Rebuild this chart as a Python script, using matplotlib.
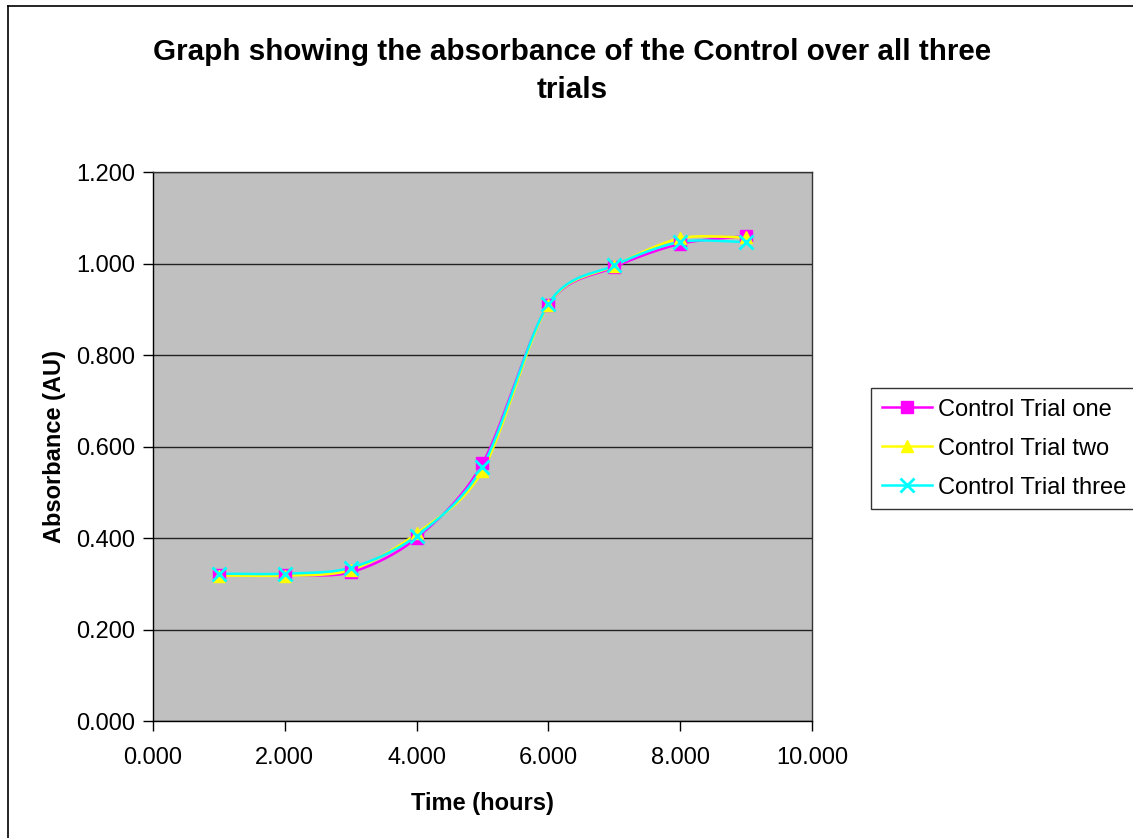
import matplotlib
matplotlib.use("Agg")
import matplotlib.pyplot as plt
import numpy as np
from matplotlib.lines import Line2D

plt.rcParams['font.family'] = ['Liberation Sans', 'DejaVu Sans']

# absorbance readings for the control, one list per trial
hours = [1, 2, 3, 4, 5, 6, 7, 8, 9]
trial_one = [0.320, 0.320, 0.325, 0.400, 0.563, 0.910, 0.992, 1.043, 1.060]
trial_two = [0.318, 0.318, 0.330, 0.410, 0.547, 0.910, 0.995, 1.055, 1.057]
trial_three = [0.322, 0.322, 0.335, 0.405, 0.556, 0.912, 0.996, 1.047, 1.047]

series = [
    ("Control Trial one", trial_one, "#FF00FF", "s"),
    ("Control Trial two", trial_two, "#FFFF00", "^"),
    ("Control Trial three", trial_three, "#00FFFF", "x"),
]


def smooth(x, y, n=30):
    # catmull-rom curve through the points (like excel's smoothed line)
    x = np.asarray(x, float)
    y = np.asarray(y, float)
    px = np.concatenate([[2 * x[0] - x[1]], x, [2 * x[-1] - x[-2]]])
    py = np.concatenate([[2 * y[0] - y[1]], y, [2 * y[-1] - y[-2]]])
    t = np.linspace(0, 1, n)
    xs, ys = [], []
    for i in range(1, len(px) - 2):
        for p, out in ((px, xs), (py, ys)):
            p0, p1, p2, p3 = p[i - 1], p[i], p[i + 1], p[i + 2]
            m1 = (p2 - p0) / 2 * 0.9
            m2 = (p3 - p1) / 2 * 0.9
            h00 = 2 * t**3 - 3 * t**2 + 1
            h10 = t**3 - 2 * t**2 + t
            h01 = -2 * t**3 + 3 * t**2
            h11 = t**3 - t**2
            out.extend(h00 * p1 + h10 * m1 + h01 * p2 + h11 * m2)
    return np.array(xs), np.array(ys)


fig = plt.figure(figsize=(11.33, 8.38), dpi=100)
ax = fig.add_axes([153 / 1133, 1 - 721 / 838, (812 - 153) / 1133, (721 - 172) / 838])
ax.set_facecolor("#C0C0C0")

for name, vals, col, mk in series:
    sx, sy = smooth(hours, vals)
    ax.plot(sx, sy, color=col, lw=1.8, zorder=3)
    if mk == "x":
        ax.plot(hours, vals, ls="none", marker=mk, ms=10, mew=2, color=col, zorder=4)
    else:
        ax.plot(hours, vals, ls="none", marker=mk, ms=9, color=col, mec=col, zorder=4)

ax.set_xlim(0, 10)
ax.set_ylim(0, 1.2)
ax.set_xticks(np.arange(0, 10.1, 2))
ax.set_yticks(np.arange(0, 1.21, 0.2))
ax.set_xticklabels([f"{v:.3f}" for v in np.arange(0, 10.1, 2)])
ax.set_yticklabels([f"{v:.3f}" for v in np.arange(0, 1.21, 0.2)])
ax.tick_params(direction="out", length=7, width=1, labelsize=17)
ax.tick_params(axis="x", pad=12)
ax.tick_params(axis="y", pad=6)
ax.yaxis.grid(True, color="#222222", lw=1)
ax.set_axisbelow(True)
for s in ax.spines.values():
    s.set_color("#333333")
    s.set_linewidth(1)
ax.spines["bottom"].set_color("black")
ax.spines["left"].set_color("black")

ax.set_xlabel("Time (hours)", fontsize=17, fontweight="bold", labelpad=16)
ax.set_ylabel("Absorbance (AU)", fontsize=17, fontweight="bold", labelpad=7)

fig.text(572 / 1133, 1 - 71 / 838,
         "Graph showing the absorbance of the Control over all three\ntrials",
         ha="center", va="center", fontsize=21.3, fontweight="bold", linespacing=1.5)

handles = [Line2D([], [], color=c, lw=1.8, marker=m, ms=9 if m != "x" else 10,
                  mew=2 if m == "x" else 1, mec=c) for _, _, c, m in series]
leg = fig.legend(handles, [s[0] for s in series], loc="upper left",
                 bbox_to_anchor=(871 / 1133, 1 - 388 / 838), fontsize=17,
                 frameon=True, fancybox=False, edgecolor="black",
                 handlelength=2.15, handletextpad=0.25, labelspacing=0.72,
                 borderpad=0.45, borderaxespad=0)
leg.get_frame().set_linewidth(1)

# outer chart border
fig.add_artist(Line2D([8 / 1133, 8 / 1133], [0, 1 - 6 / 838], color="black", lw=1.2))
fig.add_artist(Line2D([8 / 1133, 1], [1 - 6 / 838, 1 - 6 / 838], color="black", lw=1.2))

fig.savefig("out.png", dpi=100, facecolor="white")
